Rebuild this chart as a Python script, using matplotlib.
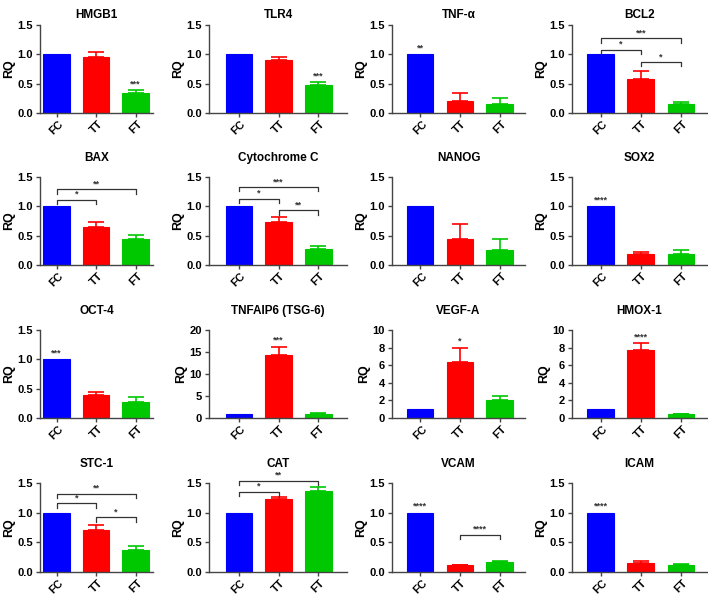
import matplotlib
matplotlib.use('Agg')
import matplotlib.pyplot as plt
import numpy as np

plt.rcParams['font.family'] = ['Liberation Sans', 'DejaVu Sans']
plt.rcParams['font.weight'] = 'bold'

# data
genes = ['HMGB1', 'TLR4', 'TNF-\u03b1', 'BCL2',
         'BAX', 'Cytochrome C', 'NANOG', 'SOX2',
         'OCT-4', 'TNFAIP6 (TSG-6)', 'VEGF-A', 'HMOX-1',
         'STC-1', 'CAT', 'VCAM', 'ICAM']
groups = ['FC', 'TT', 'FT']
fc_mean = [1, 1, 1, 1, 1, 1, 1, 1, 1, 1, 1, 1, 1, 1, 1, 1]
tt_mean = [0.95, 0.90, 0.20, 0.58, 0.65, 0.74, 0.45, 0.18,
           0.40, 14.3, 6.4, 7.7, 0.70, 1.23, 0.11, 0.16]
ft_mean = [0.34, 0.48, 0.15, 0.15, 0.44, 0.27, 0.25, 0.18,
           0.27, 0.95, 2.07, 0.42, 0.37, 1.36, 0.17, 0.12]
tt_err = [0.09, 0.05, 0.14, 0.14, 0.09, 0.08, 0.25, 0.04,
          0.04, 1.9, 1.6, 0.8, 0.10, 0.03, 0.01, 0.03]
ft_err = [0.05, 0.05, 0.11, 0.04, 0.07, 0.06, 0.19, 0.08,
          0.08, 0.25, 0.45, 0.08, 0.07, 0.07, 0.01, 0.02]
y_max = [1.5, 1.5, 1.5, 1.5, 1.5, 1.5, 1.5, 1.5,
         1.5, 20, 10, 10, 1.5, 1.5, 1.5, 1.5]
y_step = [0.5, 0.5, 0.5, 0.5, 0.5, 0.5, 0.5, 0.5,
          0.5, 5, 2, 2, 0.5, 0.5, 0.5, 0.5]

# stars above single bars: (panel, bar, text)
stars = [(0, 2, '***'), (1, 2, '***'), (2, 0, '**'), (7, 0, '****'),
         (8, 0, '***'), (9, 1, '***'), (10, 1, '*'), (11, 1, '****'),
         (14, 0, '****'), (15, 0, '****')]
# comparison brackets: (panel, bar a, bar b, height, text)
brackets = [(3, 0, 1, 1.08, '*'), (3, 0, 2, 1.27, '***'), (3, 1, 2, 0.87, '*'),
            (4, 0, 1, 1.11, '*'), (4, 0, 2, 1.29, '**'),
            (5, 0, 1, 1.13, '*'), (5, 0, 2, 1.33, '***'), (5, 1, 2, 0.93, '**'),
            (12, 0, 1, 1.16, '*'), (12, 0, 2, 1.32, '**'), (12, 1, 2, 0.92, '*'),
            (13, 0, 1, 1.35, '*'), (13, 0, 2, 1.54, '**'),
            (14, 1, 2, 0.63, '****')]

colors = ['#0000ff', '#ff0000', '#00c800']
W, H = 708, 595
col_left = [40, 209, 392, 572]
col_right = [153, 347, 525, 707]
col_xlim = [(-0.42, 2.44), (-0.75, 2.72), (-0.7, 2.63), (-0.72, 2.65)]
row_top = [25, 177, 330, 483]
row_bot = [113, 265, 418, 572]
row_title_pad = [5, 11.5, 11.5, 11.5]

fig = plt.figure(figsize=(W / 100, H / 100), dpi=100)

for k, gene in enumerate(genes):
    r, c = divmod(k, 4)
    ax = fig.add_axes([col_left[c] / W, 1 - row_bot[r] / H,
                       (col_right[c] - col_left[c]) / W,
                       (row_bot[r] - row_top[r]) / H])
    x = np.arange(3)
    means = [fc_mean[k], tt_mean[k], ft_mean[k]]
    errs = [0, tt_err[k], ft_err[k]]
    ax.bar(x, means, width=0.67, color=colors, edgecolor=colors, linewidth=0.8, zorder=2)
    for i in range(1, 3):
        ax.errorbar(x[i], means[i], yerr=[[0], [errs[i]]], color=colors[i],
                    capsize=6, elinewidth=1.2, capthick=1.2, zorder=1)
    ax.set_xlim(*col_xlim[c])
    ax.set_ylim(0, y_max[k])
    ax.set_yticks(np.arange(0, y_max[k] + 1e-9, y_step[k]))
    if y_max[k] == 1.5:
        ax.set_yticklabels(['%.1f' % v for v in np.arange(0, 1.51, 0.5)])
    ax.set_xticks(x)
    ax.set_xticklabels(groups, rotation=45, ha='center', va='top',
                       fontsize=8, fontweight='bold')
    ax.tick_params(axis='y', labelsize=8, length=3, width=1, color='#444444', pad=2)
    ax.tick_params(axis='x', length=3, width=1, color='#444444', pad=1)
    for lab in ax.get_yticklabels():
        lab.set_fontweight('bold')
    for s in ['top', 'right']:
        ax.spines[s].set_visible(False)
    for s in ['left', 'bottom']:
        ax.spines[s].set_color('#444444')
        ax.spines[s].set_linewidth(1)
    ax.set_ylabel('RQ', fontsize=9, fontweight='bold', labelpad=2)
    ax.set_title(gene, fontsize=8.5, fontweight='bold', pad=row_title_pad[r])

    tops = [means[i] + errs[i] for i in range(3)]
    for p, b, txt in stars:
        if p == k:
            ax.text(x[b], tops[b] + 0.02 * y_max[k], txt, ha='center', va='bottom',
                    fontsize=6.5, color='#333333')
    for p, a, b, h, txt in brackets:
        if p == k:
            leg = 0.05 * y_max[k]
            ax.plot([x[a], x[a], x[b], x[b]], [h - leg, h, h, h - leg],
                    color='#333333', lw=0.9, clip_on=False)
            ax.text((x[a] + x[b]) / 2, h + 0.01 * y_max[k], txt, ha='center',
                    va='bottom', fontsize=6.5, color='#333333', clip_on=False)

fig.savefig('out.png', dpi=100)
